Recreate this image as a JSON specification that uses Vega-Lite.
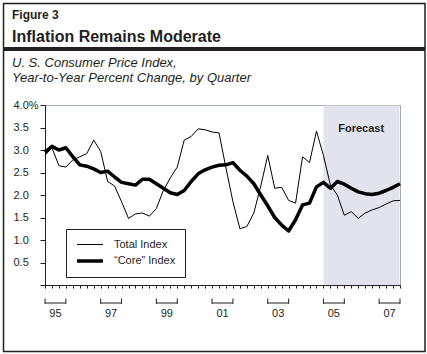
{
  "$schema": "https://vega.github.io/schema/vega-lite/v6.json",
  "padding": {"left": 2, "top": 2, "right": 2, "bottom": 2},
  "width": 355,
  "height": 180,
  "background": "white",
  "config": {
    "view": {"stroke": "#a3abb3", "strokeWidth": 1},
    "font": "Liberation Sans",
    "text": {"font": "Liberation Sans", "color": "#231f20"}
  },
  "resolve": {"axis": {"x": "independent", "y": "independent"}},
  "datasets": {
    "one": [{}],
    "cpi": [
      {"t": 1995.0, "series": "Total Index", "v": 2.88},
      {"t": 1995.25, "series": "Total Index", "v": 3.05},
      {"t": 1995.5, "series": "Total Index", "v": 2.65},
      {"t": 1995.75, "series": "Total Index", "v": 2.62},
      {"t": 1996.0, "series": "Total Index", "v": 2.78},
      {"t": 1996.25, "series": "Total Index", "v": 2.85},
      {"t": 1996.5, "series": "Total Index", "v": 2.92},
      {"t": 1996.75, "series": "Total Index", "v": 3.22},
      {"t": 1997.0, "series": "Total Index", "v": 2.97},
      {"t": 1997.25, "series": "Total Index", "v": 2.3},
      {"t": 1997.5, "series": "Total Index", "v": 2.2},
      {"t": 1997.75, "series": "Total Index", "v": 1.85},
      {"t": 1998.0, "series": "Total Index", "v": 1.48},
      {"t": 1998.25, "series": "Total Index", "v": 1.58},
      {"t": 1998.5, "series": "Total Index", "v": 1.6},
      {"t": 1998.75, "series": "Total Index", "v": 1.53},
      {"t": 1999.0, "series": "Total Index", "v": 1.7},
      {"t": 1999.25, "series": "Total Index", "v": 2.1},
      {"t": 1999.5, "series": "Total Index", "v": 2.38},
      {"t": 1999.75, "series": "Total Index", "v": 2.62},
      {"t": 2000.0, "series": "Total Index", "v": 3.22},
      {"t": 2000.25, "series": "Total Index", "v": 3.3},
      {"t": 2000.5, "series": "Total Index", "v": 3.47},
      {"t": 2000.75, "series": "Total Index", "v": 3.45},
      {"t": 2001.0, "series": "Total Index", "v": 3.4},
      {"t": 2001.25, "series": "Total Index", "v": 3.38},
      {"t": 2001.5, "series": "Total Index", "v": 2.6},
      {"t": 2001.75, "series": "Total Index", "v": 1.85},
      {"t": 2002.0, "series": "Total Index", "v": 1.25},
      {"t": 2002.25, "series": "Total Index", "v": 1.3},
      {"t": 2002.5, "series": "Total Index", "v": 1.6},
      {"t": 2002.75, "series": "Total Index", "v": 2.2},
      {"t": 2003.0, "series": "Total Index", "v": 2.88},
      {"t": 2003.25, "series": "Total Index", "v": 2.15},
      {"t": 2003.5, "series": "Total Index", "v": 2.17},
      {"t": 2003.75, "series": "Total Index", "v": 1.88},
      {"t": 2004.0, "series": "Total Index", "v": 1.82},
      {"t": 2004.25, "series": "Total Index", "v": 2.85},
      {"t": 2004.5, "series": "Total Index", "v": 2.72},
      {"t": 2004.75, "series": "Total Index", "v": 3.42},
      {"t": 2005.0, "series": "Total Index", "v": 2.88},
      {"t": 2005.25, "series": "Total Index", "v": 2.22},
      {"t": 2005.5, "series": "Total Index", "v": 2.0},
      {"t": 2005.75, "series": "Total Index", "v": 1.55},
      {"t": 2006.0, "series": "Total Index", "v": 1.63},
      {"t": 2006.25, "series": "Total Index", "v": 1.48},
      {"t": 2006.5, "series": "Total Index", "v": 1.6},
      {"t": 2006.75, "series": "Total Index", "v": 1.67},
      {"t": 2007.0, "series": "Total Index", "v": 1.72},
      {"t": 2007.25, "series": "Total Index", "v": 1.8},
      {"t": 2007.5, "series": "Total Index", "v": 1.87},
      {"t": 2007.75, "series": "Total Index", "v": 1.88},
      {"t": 1995.0, "series": "“Core” Index", "v": 2.95},
      {"t": 1995.25, "series": "“Core” Index", "v": 3.08},
      {"t": 1995.5, "series": "“Core” Index", "v": 3.0},
      {"t": 1995.75, "series": "“Core” Index", "v": 3.05},
      {"t": 1996.0, "series": "“Core” Index", "v": 2.85},
      {"t": 1996.25, "series": "“Core” Index", "v": 2.67},
      {"t": 1996.5, "series": "“Core” Index", "v": 2.64},
      {"t": 1996.75, "series": "“Core” Index", "v": 2.58},
      {"t": 1997.0, "series": "“Core” Index", "v": 2.5},
      {"t": 1997.25, "series": "“Core” Index", "v": 2.53},
      {"t": 1997.5, "series": "“Core” Index", "v": 2.4},
      {"t": 1997.75, "series": "“Core” Index", "v": 2.28},
      {"t": 1998.0, "series": "“Core” Index", "v": 2.25},
      {"t": 1998.25, "series": "“Core” Index", "v": 2.22},
      {"t": 1998.5, "series": "“Core” Index", "v": 2.35},
      {"t": 1998.75, "series": "“Core” Index", "v": 2.35},
      {"t": 1999.0, "series": "“Core” Index", "v": 2.25},
      {"t": 1999.25, "series": "“Core” Index", "v": 2.15},
      {"t": 1999.5, "series": "“Core” Index", "v": 2.05},
      {"t": 1999.75, "series": "“Core” Index", "v": 2.01},
      {"t": 2000.0, "series": "“Core” Index", "v": 2.1},
      {"t": 2000.25, "series": "“Core” Index", "v": 2.3},
      {"t": 2000.5, "series": "“Core” Index", "v": 2.47},
      {"t": 2000.75, "series": "“Core” Index", "v": 2.56},
      {"t": 2001.0, "series": "“Core” Index", "v": 2.62},
      {"t": 2001.25, "series": "“Core” Index", "v": 2.66},
      {"t": 2001.5, "series": "“Core” Index", "v": 2.67},
      {"t": 2001.75, "series": "“Core” Index", "v": 2.72},
      {"t": 2002.0, "series": "“Core” Index", "v": 2.55},
      {"t": 2002.25, "series": "“Core” Index", "v": 2.42},
      {"t": 2002.5, "series": "“Core” Index", "v": 2.25},
      {"t": 2002.75, "series": "“Core” Index", "v": 2.0},
      {"t": 2003.0, "series": "“Core” Index", "v": 1.76},
      {"t": 2003.25, "series": "“Core” Index", "v": 1.5},
      {"t": 2003.5, "series": "“Core” Index", "v": 1.33},
      {"t": 2003.75, "series": "“Core” Index", "v": 1.2},
      {"t": 2004.0, "series": "“Core” Index", "v": 1.45},
      {"t": 2004.25, "series": "“Core” Index", "v": 1.78},
      {"t": 2004.5, "series": "“Core” Index", "v": 1.82},
      {"t": 2004.75, "series": "“Core” Index", "v": 2.18},
      {"t": 2005.0, "series": "“Core” Index", "v": 2.28},
      {"t": 2005.25, "series": "“Core” Index", "v": 2.15},
      {"t": 2005.5, "series": "“Core” Index", "v": 2.3},
      {"t": 2005.75, "series": "“Core” Index", "v": 2.24},
      {"t": 2006.0, "series": "“Core” Index", "v": 2.15},
      {"t": 2006.25, "series": "“Core” Index", "v": 2.07},
      {"t": 2006.5, "series": "“Core” Index", "v": 2.03},
      {"t": 2006.75, "series": "“Core” Index", "v": 2.01},
      {"t": 2007.0, "series": "“Core” Index", "v": 2.04},
      {"t": 2007.25, "series": "“Core” Index", "v": 2.1},
      {"t": 2007.5, "series": "“Core” Index", "v": 2.17},
      {"t": 2007.75, "series": "“Core” Index", "v": 2.25}
    ],
    "years": [
      {"label": "95", "start": 1995, "end": 1995.75, "mid": 1995.375},
      {"label": "97", "start": 1997, "end": 1997.75, "mid": 1997.375},
      {"label": "99", "start": 1999, "end": 1999.75, "mid": 1999.375},
      {"label": "01", "start": 2001, "end": 2001.75, "mid": 2001.375},
      {"label": "03", "start": 2003, "end": 2003.75, "mid": 2003.375},
      {"label": "05", "start": 2005, "end": 2005.75, "mid": 2005.375},
      {"label": "07", "start": 2007, "end": 2007.75, "mid": 2007.375}
    ]
  },
  "layer": [
    {
      "data": {"name": "one"},
      "mark": {"type": "rect", "fill": "#e3e3ee"},
      "encoding": {
        "x": {"datum": 2005, "type": "quantitative", "axis": null},
        "x2": {"datum": 2007.732},
        "y": {"datum": 0, "type": "quantitative", "axis": null},
        "y2": {"datum": 3.989}
      }
    },
    {
      "data": {"name": "cpi"},
      "mark": {"type": "line", "color": "black", "strokeJoin": "round"},
      "encoding": {
        "x": {
          "field": "t", "type": "quantitative",
          "scale": {"domain": [1995, 2007.75], "nice": false, "zero": false},
          "axis": {
            "values": [1995, 1995.25, 1995.5, 1995.75, 1996, 1996.25, 1996.5, 1996.75, 1997, 1997.25, 1997.5, 1997.75, 1998, 1998.25, 1998.5, 1998.75, 1999, 1999.25, 1999.5, 1999.75, 2000, 2000.25, 2000.5, 2000.75, 2001, 2001.25, 2001.5, 2001.75, 2002, 2002.25, 2002.5, 2002.75, 2003, 2003.25, 2003.5, 2003.75, 2004, 2004.25, 2004.5, 2004.75, 2005, 2005.25, 2005.5, 2005.75, 2006, 2006.25, 2006.5, 2006.75, 2007, 2007.25, 2007.5, 2007.75],
            "labels": false, "title": null, "grid": false, "orient": "bottom",
            "tickSize": 3, "tickColor": "#231f20", "domainColor": "#231f20", "zindex": 1
          }
        },
        "y": {
          "field": "v", "type": "quantitative",
          "scale": {"domain": [0, 4], "nice": false},
          "axis": {
            "values": [0, 0.5, 1, 1.5, 2, 2.5, 3, 3.5, 4],
            "title": null, "orient": "left",
            "labelExpr": "datum.value == 4 ? '4.0%' : (datum.value == 0 ? '' : format(datum.value, '.1f'))",
            "labelAlign": "left", "labelPadding": 27, "labelBaseline": "middle",
            "labelFont": "Liberation Sans", "labelFontSize": 11, "labelColor": "#231f20",
            "tickSize": 5, "tickColor": "#231f20", "domainColor": "#231f20",
            "gridColor": "#a3abb3"
          }
        },
        "strokeWidth": {
          "field": "series", "type": "ordinal",
          "scale": {"type": "point", "domain": ["Total Index", "“Core” Index"], "range": [1, 3.5], "padding": 0},
          "legend": {
            "title": null, "orient": "none", "legendX": 21, "legendY": 124,
            "symbolType": "M-1,0H3.33", "symbolSize": 144,
            "symbolStrokeColor": "black", "symbolFillColor": "transparent",
            "labelFont": "Liberation Sans", "labelFontSize": 11, "labelColor": "#231f20",
            "labelOffset": 23, "strokeColor": "#231f20", "fillColor": "white",
            "padding": 9, "rowPadding": 3, "zindex": 1
          }
        }
      }
    },
    {
      "data": {"name": "one"},
      "mark": {"type": "text", "fontWeight": "bold", "fontSize": 11, "align": "center", "baseline": "middle"},
      "encoding": {
        "x": {"datum": 2006.356, "type": "quantitative", "axis": null},
        "y": {"datum": 3.46, "type": "quantitative", "axis": null},
        "text": {"value": "Forecast"}
      }
    },
    {
      "data": {"name": "years"},
      "mark": {"type": "rule", "color": "#231f20", "strokeWidth": 1},
      "encoding": {
        "x": {"field": "start", "type": "quantitative", "axis": null},
        "x2": {"field": "end"},
        "y": {"datum": -0.4, "type": "quantitative", "axis": null}
      }
    },
    {
      "data": {"name": "years"},
      "mark": {"type": "rule", "color": "#231f20", "strokeWidth": 1},
      "encoding": {
        "x": {"field": "start", "type": "quantitative", "axis": null},
        "y": {"datum": -0.42, "type": "quantitative", "axis": null},
        "y2": {"datum": -0.3}
      }
    },
    {
      "data": {"name": "years"},
      "mark": {"type": "rule", "color": "#231f20", "strokeWidth": 1},
      "encoding": {
        "x": {"field": "end", "type": "quantitative", "axis": null},
        "y": {"datum": -0.42, "type": "quantitative", "axis": null},
        "y2": {"datum": -0.3}
      }
    },
    {
      "data": {"name": "years"},
      "mark": {"type": "text", "fontSize": 11, "align": "center", "baseline": "middle"},
      "encoding": {
        "x": {"field": "mid", "type": "quantitative", "axis": null},
        "y": {"datum": -0.65, "type": "quantitative", "axis": null},
        "text": {"field": "label"}
      }
    },
    {
      "data": {"name": "one"},
      "mark": {"type": "rect", "fill": "transparent", "stroke": "#231f20", "strokeWidth": 1.5},
      "encoding": {
        "x": {"datum": 1993.51, "type": "quantitative", "axis": null},
        "x2": {"datum": 2008.648},
        "y": {"datum": 6.2556, "type": "quantitative", "axis": null},
        "y2": {"datum": -1.4778}
      }
    },
    {
      "data": {"name": "one"},
      "mark": {"type": "rect", "fill": "#231f20"},
      "encoding": {
        "x": {"datum": 1993.51, "type": "quantitative", "axis": null},
        "x2": {"datum": 2008.648},
        "y": {"datum": 5.289, "type": "quantitative", "axis": null},
        "y2": {"datum": 5.2}
      }
    },
    {
      "data": {"name": "one"},
      "mark": {"type": "text", "fontWeight": "bold", "fontSize": 12, "align": "left", "baseline": "alphabetic"},
      "encoding": {
        "x": {"datum": 1993.815, "type": "quantitative", "axis": null},
        "y": {"datum": 5.92, "type": "quantitative", "axis": null},
        "text": {"value": "Figure 3"}
      }
    },
    {
      "data": {"name": "one"},
      "mark": {"type": "text", "fontWeight": "bold", "fontSize": 16, "align": "left", "baseline": "alphabetic"},
      "encoding": {
        "x": {"datum": 1993.815, "type": "quantitative", "axis": null},
        "y": {"datum": 5.4, "type": "quantitative", "axis": null},
        "text": {"value": "Inflation Remains Moderate"}
      }
    },
    {
      "data": {"name": "one"},
      "mark": {"type": "text", "fontStyle": "italic", "fontSize": 13, "align": "left", "baseline": "alphabetic"},
      "encoding": {
        "x": {"datum": 1993.815, "type": "quantitative", "axis": null},
        "y": {"datum": 4.844, "type": "quantitative", "axis": null},
        "text": {"value": "U. S. Consumer Price Index,"}
      }
    },
    {
      "data": {"name": "one"},
      "mark": {"type": "text", "fontStyle": "italic", "fontSize": 13, "align": "left", "baseline": "alphabetic"},
      "encoding": {
        "x": {"datum": 1993.815, "type": "quantitative", "axis": null},
        "y": {"datum": 4.511, "type": "quantitative", "axis": null},
        "text": {"value": "Year-to-Year Percent Change, by Quarter"}
      }
    }
  ]
}
